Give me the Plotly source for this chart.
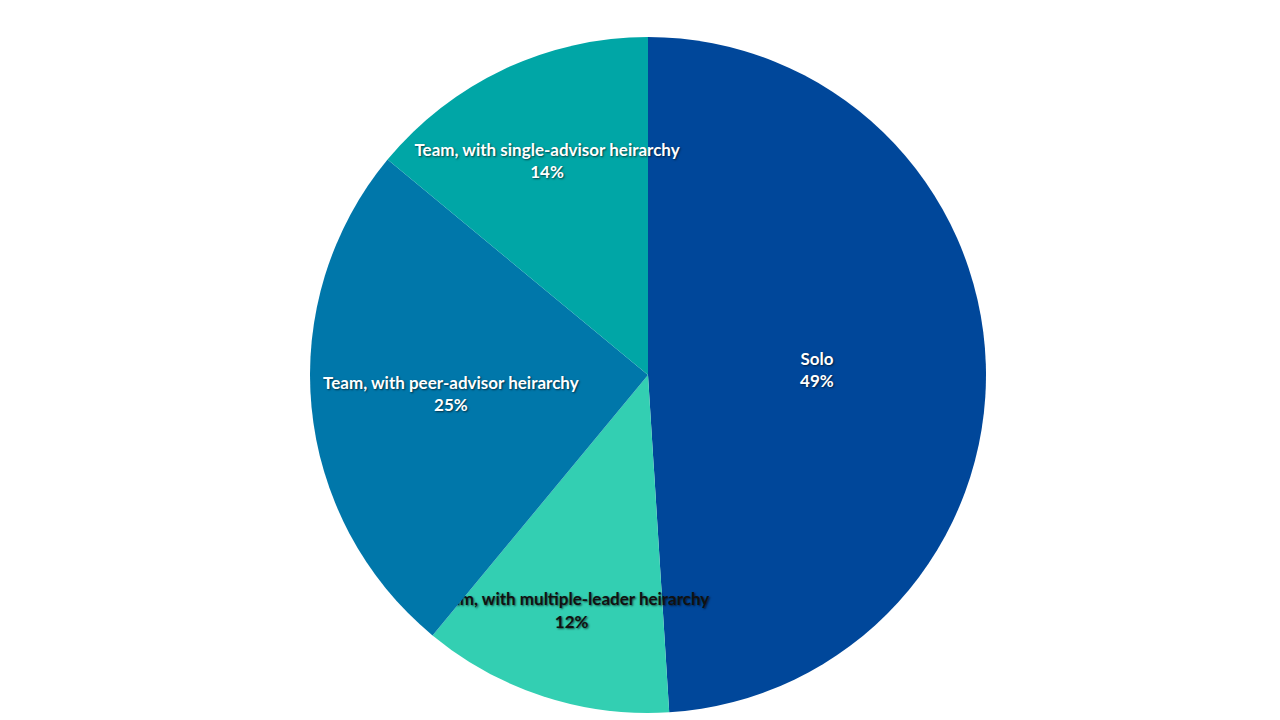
import plotly.graph_objects as go

labels = ["Solo", "Team, with multiple-leader heirarchy", "Team, with peer-advisor heirarchy", "Team, with single-advisor heirarchy"]
values = [49, 12, 25, 14]
colors = ["#00479A", "#33CFB2", "#0077AA", "#00A6A6"]
text_colors = ["white", "#111111", "white", "white"]

fig = go.Figure(go.Pie(
    labels=labels, values=values, sort=False, direction="clockwise", rotation=0,
    marker=dict(colors=colors, line=dict(color="white", width=0)),
    textinfo="label+percent", textposition="inside", insidetextorientation="horizontal",
    textfont=dict(family="Lato", size=17, color=text_colors, weight="bold",
                  shadow="1px 1px 2px rgba(0,0,0,0.6)"),
    hoverinfo="label+percent", showlegend=False,
))
fig.update_layout(
    width=1280, height=720, margin=dict(l=0, r=0, t=29, b=15),
    paper_bgcolor="white", uniformtext=dict(minsize=17, mode="show"),
)
fig.write_html("out.html")
